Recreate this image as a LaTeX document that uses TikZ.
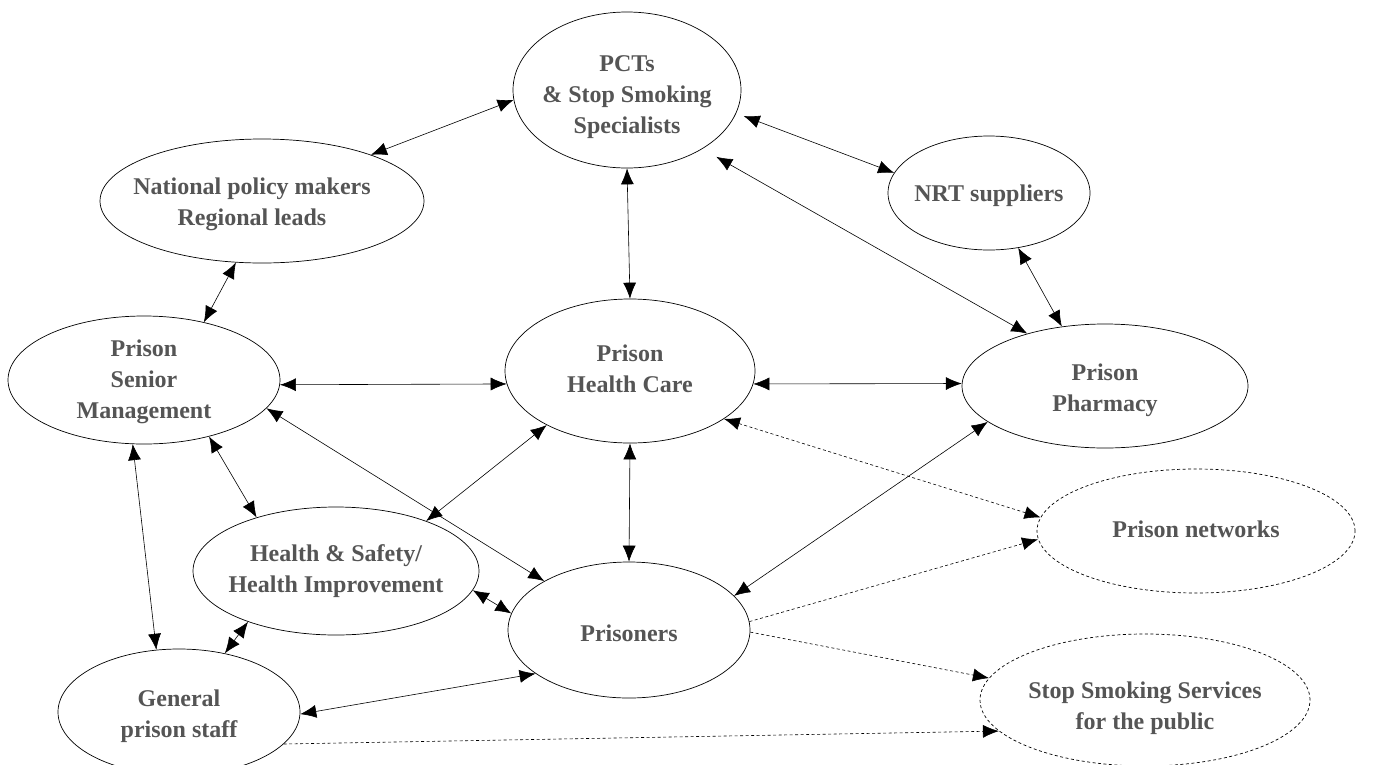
\documentclass[tikz,border=0pt]{standalone}
\usepackage{fontspec}
\setmainfont{Liberation Serif}
\usetikzlibrary{shapes.geometric,arrows.meta}
\definecolor{txt}{HTML}{555555}
\newcommand\tx[1]{\begin{tabular}{@{}c@{}}#1\end{tabular}}
\begin{document}
\begin{tikzpicture}[x=1pt,y=-1pt,
  el/.style={draw, ellipse, inner sep=0pt, line width=0.7pt},
  del/.style={el, dash pattern=on 3pt off 2.5pt},
  T/.style 2 args={label={[#1]center:{\tx{#2}}}},
  every label/.style={inner sep=0pt, font=\fontsize{24}{31}\selectfont\bfseries, text=txt},
  link/.style={{Latex[length=16pt,width=13pt]}-{Latex[length=16pt,width=13pt]}, line width=0.6pt},
  dlink/.style={-{Latex[length=16pt,width=13pt]}, dash pattern=on 3pt off 2.5pt, line width=0.6pt},
  ddlink/.style={{Latex[length=16pt,width=13pt]}-{Latex[length=16pt,width=13pt]}, dash pattern=on 3pt off 2.5pt, line width=0.6pt}]
\useasboundingbox (0,0) rectangle (1373,764);
\fill[white] (0,0) rectangle (1373,764);

\node[el, minimum width=228pt, minimum height=156pt, T={yshift=-6pt}{PCTs\\\& Stop Smoking\\Specialists}] (pct) at (627,90) {};
\node[el, minimum width=324pt, minimum height=124pt, T={yshift=-3pt,xshift=-10pt}{National policy makers\\Regional leads}] (nat) at (262,201) {};
\node[el, minimum width=202pt, minimum height=114pt, T={yshift=-2pt}{NRT suppliers}] (nrt) at (989,193) {};
\node[el, minimum width=272pt, minimum height=128pt, T={yshift=-1pt}{Prison\\Senior\\Management}] (sen) at (144,380) {};
\node[el, minimum width=250pt, minimum height=144pt, T={}{Prison\\Health Care}] (hc) at (630,371) {};
\node[el, minimum width=286pt, minimum height=124pt, T={yshift=-4pt}{Prison\\Pharmacy}] (ph) at (1105,386) {};
\node[el, minimum width=286pt, minimum height=128pt, T={}{Health \& Safety/\\Health Improvement}] (hs) at (336,571) {};
\node[el, minimum width=242pt, minimum height=126pt, T={yshift=-4pt}{General\\prison staff}] (gs) at (179,712) {};
\node[el, minimum width=242pt, minimum height=136pt, T={yshift=-5pt}{Prisoners}] (pr) at (629,630) {};
\node[del, minimum width=318pt, minimum height=124pt, T={}{Prison networks}] (pn) at (1196,531) {};
\node[del, minimum width=330pt, minimum height=132pt, T={yshift=-8pt}{Stop Smoking Services\\for the public}] (ss) at (1145,700) {};

\draw[link] (nat.23) -- (pct.185);
\draw[link, shorten <=8pt] (pct.-12) -- (nrt.168);
\draw[link] (pct.-90) -- (hc.90);
\draw[link, shorten <=16pt] (pct.-38) -- (ph.146);
\draw[link] (nrt.-62) -- (ph.126);
\draw[link] (nat.247) -- (sen.44);
\draw[link] (sen.-2) -- (hc.186);
\draw[link] (hc.-6) -- (ph.179);
\draw[link] (sen.-13) -- (pr.150);
\draw[link] (sen.-41) -- (hs.146);
\draw[link] (sen.260) -- (gs.110);
\draw[link] (hc.213) -- (hs.29);
\draw[link] (hc.-90) -- (pr.90);
\draw[link] (ph.197) -- (pr.18);
\draw[link] (hs.-8) -- (pr.172);
\draw[link] (hs.210) -- (gs.52);
\draw[link] (gs.-1) -- (pr.205);
\draw[ddlink] (hc.-27) -- (pn.175);
\draw[dlink] (pr.4) -- (pn.183);
\draw[dlink] (pr.-1) -- (ss.172);
\draw[dlink] (gs.-17) -- (ss.192);
\end{tikzpicture}
\end{document}
